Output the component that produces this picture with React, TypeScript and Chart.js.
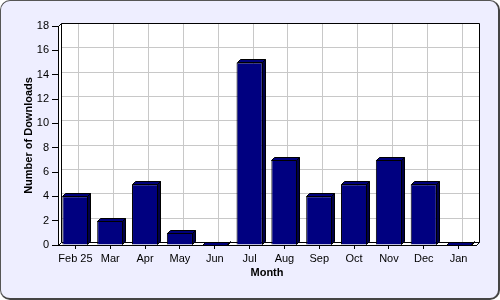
import React, { useEffect, useRef } from "react";
import { Chart, registerables } from "chart.js";

Chart.register(...registerables);

const categories = ["Feb 25", "Mar", "Apr", "May", "Jun", "Jul", "Aug", "Sep", "Oct", "Nov", "Dec", "Jan"];
const downloads = [4, 2, 5, 1, 0, 15, 7, 4, 5, 7, 5, 0];
const yMin = 0;
const yMax = 18;
const yStep = 2;
const xTitle = "Month";
const yTitle = "Number of Downloads";

const DEPTH = 3;
const FONT = "'Liberation Sans', Arial, sans-serif";
const GRID = "#c8c8c8";

const depthPlugin = {
  id: "depth3d",
  beforeDatasetsDraw(chart: any) {
    const { ctx, chartArea, scales } = chart;
    const d = DEPTH;
    const L = Math.round(chartArea.left) + 0.5;
    const R = Math.round(chartArea.right) + 0.5;
    const T = Math.round(chartArea.top) + 0.5;
    const B = Math.round(chartArea.bottom) + 0.5;
    ctx.save();
    ctx.lineWidth = 1;
    // back plane
    ctx.fillStyle = "#ffffff";
    ctx.fillRect(L + d, T - d, R - L, B - T);
    // grid lines on back plane
    ctx.strokeStyle = GRID;
    scales.y.ticks.forEach((t: any) => {
      const y = Math.round(scales.y.getPixelForValue(t.value)) + 0.5 - d;
      ctx.beginPath();
      ctx.moveTo(L + d, y);
      ctx.lineTo(R + d, y);
      ctx.stroke();
    });
    categories.forEach((_c, i) => {
      const x = Math.round(scales.x.getPixelForValue(i)) + 0.5 + d;
      ctx.beginPath();
      ctx.moveTo(x, T - d);
      ctx.lineTo(x, B - d);
      ctx.stroke();
    });
    // back plane outline (top and right)
    ctx.strokeStyle = "#000000";
    ctx.beginPath();
    ctx.moveTo(L + d, T - d);
    ctx.lineTo(R + d, T - d);
    ctx.lineTo(R + d, B - d);
    ctx.stroke();
    // left wall
    ctx.beginPath();
    ctx.moveTo(L, T);
    ctx.lineTo(L + d, T - d);
    ctx.lineTo(L + d, B - d);
    ctx.lineTo(L, B);
    ctx.closePath();
    ctx.fillStyle = "#ffffff";
    ctx.fill();
    ctx.stroke();
    // floor
    ctx.beginPath();
    ctx.moveTo(L, B);
    ctx.lineTo(L + d, B - d);
    ctx.lineTo(R + d, B - d);
    ctx.lineTo(R, B);
    ctx.closePath();
    ctx.fillStyle = "#ffffff";
    ctx.fill();
    ctx.stroke();
    ctx.restore();
  },
  afterDatasetsDraw(chart: any) {
    const { ctx } = chart;
    const meta = chart.getDatasetMeta(0);
    const d = DEPTH;
    ctx.save();
    ctx.lineWidth = 1;
    ctx.strokeStyle = "#000000";
    meta.data.forEach((bar: any) => {
      const w = bar.width;
      const l = Math.round(bar.x - w / 2) + 0.5;
      const r = Math.round(bar.x + w / 2) - 0.5;
      const t = Math.round(bar.y) + 0.5;
      const b = Math.round(bar.base) - 0.5;
      ctx.beginPath();
      ctx.moveTo(l, t);
      ctx.lineTo(l + d, t - d);
      ctx.lineTo(r + d, t - d);
      ctx.lineTo(r, t);
      ctx.closePath();
      ctx.fillStyle = "#00007a";
      ctx.fill();
      ctx.stroke();
      ctx.beginPath();
      ctx.moveTo(r, t);
      ctx.lineTo(r + d, t - d);
      ctx.lineTo(r + d, b - d);
      ctx.lineTo(r, b);
      ctx.closePath();
      ctx.fillStyle = "#000048";
      ctx.fill();
      ctx.stroke();
    });
    ctx.restore();
  },
};

export default function App() {
  const ref = useRef<HTMLCanvasElement>(null);
  useEffect(() => {
    document.body.style.margin = "0";
    const chart = new Chart(ref.current!, {
      type: "bar",
      data: {
        labels: categories,
        datasets: [
          {
            data: downloads,
            backgroundColor: "#000080",
            borderColor: "#000000",
            borderWidth: 1,
            categoryPercentage: 1,
            barPercentage: 0.75,
          },
        ],
      },
      options: {
        responsive: false,
        animation: false,
        layout: { padding: { left: 8, right: 24, top: 26, bottom: 10 } },
        plugins: { legend: { display: false }, tooltip: { enabled: false } },
        scales: {
          x: {
            grid: { offset: false, color: "rgba(0,0,0,0)", tickColor: "#000000", tickLength: 4 },
            border: { color: "#000000", z: 1 },
            ticks: {
              color: "#000000",
              font: { family: FONT, size: 11 },
              padding: 3,
              maxRotation: 0,
              autoSkip: false,
            },
            title: {
              display: true,
              text: xTitle,
              color: "#000000",
              font: { family: FONT, size: 11, weight: "bold" },
              padding: { top: 0, bottom: 10 },
            },
            afterFit: (s: any) => {
              s.height = 45;
            },
          },
          y: {
            min: yMin,
            max: yMax,
            grid: { color: "rgba(0,0,0,0)", tickColor: "#000000", tickLength: 6 },
            border: { color: "#000000", z: 1 },
            ticks: { stepSize: yStep, color: "#000000", font: { family: FONT, size: 11 }, padding: 3 },
            title: {
              display: true,
              text: yTitle,
              color: "#000000",
              font: { family: FONT, size: 11, weight: "bold" },
              padding: { top: 14, bottom: 0 },
            },
            afterFit: (s: any) => {
              s.width = 50;
            },
          },
        },
      },
      plugins: [depthPlugin],
    });
    return () => chart.destroy();
  }, []);
  return (
    <div
      style={{
        position: "fixed",
        left: 0,
        top: 0,
        width: 500,
        height: 300,
        boxSizing: "border-box",
        background: "#eeeeff",
        borderRadius: 10,
        borderTop: "1px solid #555",
        borderLeft: "1px solid #555",
        borderRight: "2px solid #444",
        borderBottom: "2px solid #444",
        overflow: "hidden",
      }}
    >
      <canvas ref={ref} width={500} height={300} style={{ position: "absolute", left: -1, top: -1 }} />
    </div>
  );
}
